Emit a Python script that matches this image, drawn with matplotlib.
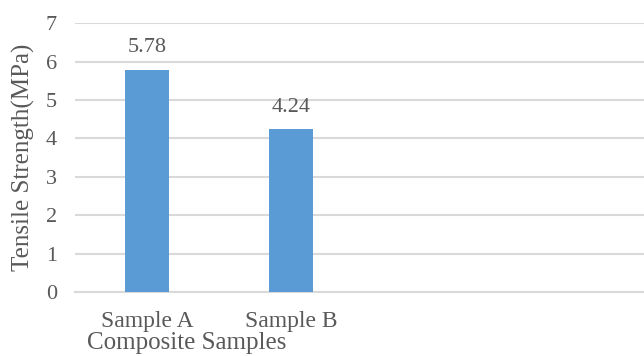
import matplotlib.pyplot as plt

# tensile strength results
samples = ["Sample A", "Sample B", "", ""]
strength = [5.78, 4.24]
y_ticks = [0, 1, 2, 3, 4, 5, 6, 7]

bar_color = "#5B9BD5"
text_color = "#595959"
grid_color = "#D9D9D9"

plt.rcParams["font.family"] = ["Liberation Serif", "DejaVu Serif"]

fig = plt.figure(figsize=(6.44, 3.56), dpi=100)
ax = fig.add_axes([0.1165, 0.18, 0.8835, 0.755])

x = list(range(len(samples)))
bars = ax.bar(x[:len(strength)], strength, width=0.31, color=bar_color, zorder=3)

for b, v in zip(bars, strength):
    ax.annotate(f"{v:.2f}", (b.get_x() + b.get_width() / 2, v),
                xytext=(0, 9), textcoords="offset points",
                ha="center", va="bottom", fontsize=16, color=text_color)

ax.set_xlim(-0.5, 3.45)
ax.set_ylim(0, 7)
ax.set_yticks(y_ticks)
ax.set_xticks(x)
ax.set_xticklabels(samples)
ax.yaxis.grid(True, color=grid_color, linewidth=1.5, zorder=0)
ax.tick_params(axis="y", length=0, pad=13, labelsize=16, labelcolor=text_color)
ax.tick_params(axis="x", length=0, pad=14, labelsize=17, labelcolor=text_color)

for s in ["top", "right", "left"]:
    ax.spines[s].set_visible(False)
ax.spines["bottom"].set_color(grid_color)
ax.spines["bottom"].set_linewidth(1.5)

ax.set_ylabel("Tensile Strength(MPa)", fontsize=18, color=text_color)
ax.yaxis.set_label_coords(-0.07, 0.5)
ax.set_xlabel("Composite Samples", fontsize=18, color=text_color)
ax.xaxis.set_label_coords(0.197, -0.15)

fig.savefig("out.png", dpi=100)
